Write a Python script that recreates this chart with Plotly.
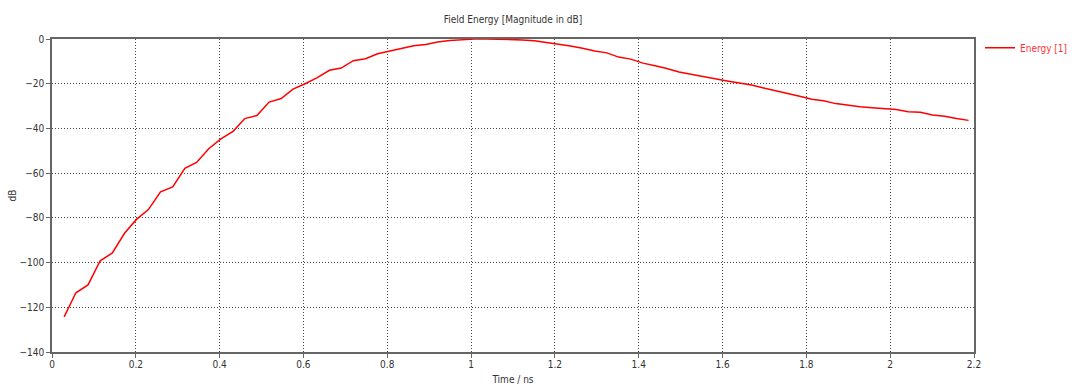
import plotly.graph_objects as go

time_ns = [0.029, 0.057, 0.086, 0.115, 0.144, 0.173, 0.201, 0.230, 0.259, 0.288,
           0.317, 0.345, 0.374, 0.403, 0.432, 0.460, 0.489, 0.518, 0.547, 0.575,
           0.604, 0.633, 0.662, 0.690, 0.719, 0.748, 0.777, 0.805, 0.834, 0.863,
           0.892, 0.920, 0.949, 0.978, 1.007, 1.036, 1.064, 1.093, 1.122, 1.151,
           1.180, 1.208, 1.237, 1.266, 1.295, 1.324, 1.352, 1.381, 1.410, 1.439,
           1.467, 1.496, 1.525, 1.554, 1.582, 1.611, 1.640, 1.669, 1.698, 1.726,
           1.755, 1.784, 1.813, 1.841, 1.870, 1.899, 1.928, 1.957, 1.986, 2.014,
           2.043, 2.072, 2.101, 2.130, 2.158, 2.187]

energy_db = [-124.3, -113.5, -110.0, -99.2, -95.7, -86.9, -80.8, -76.3, -68.4, -66.2,
             -57.9, -55.2, -49.1, -44.7, -41.3, -35.6, -34.2, -28.2, -26.6, -22.4,
             -20.0, -17.3, -14.0, -13.0, -9.7, -8.8, -6.6, -5.4, -4.3, -3.0,
             -2.5, -1.3, -0.7, -0.3, -0.05, 0.0, -0.1, -0.2, -0.4, -0.8,
             -1.5, -2.2, -3.1, -4.1, -5.4, -6.2, -8.1, -9.0, -10.8, -12.0,
             -13.2, -14.8, -15.7, -16.9, -17.8, -18.8, -19.6, -20.6, -21.9, -23.2,
             -24.4, -25.6, -26.9, -27.6, -28.9, -29.7, -30.3, -30.7, -31.0, -31.5,
             -32.5, -32.8, -34.0, -34.6, -35.6, -36.4]

x_ticks = [0, 0.2, 0.4, 0.6, 0.8, 1, 1.2, 1.4, 1.6, 1.8, 2, 2.2]
x_tick_labels = ["0", "0.2", "0.4", "0.6", "0.8", "1", "1.2", "1.4", "1.6", "1.8", "2", "2.2"]
y_ticks = [0, -20, -40, -60, -80, -100, -120, -140]

FONT = "DejaVu Sans Condensed, DejaVu Sans, sans-serif"

fig = go.Figure()
fig.add_trace(go.Scatter(
    x=time_ns, y=energy_db, mode="lines", name="Energy [1]",
    line=dict(color="#ff0000", width=1.5),
))

axis_common = dict(
    showline=True, linecolor="#666666", linewidth=1.5, mirror=True,
    showgrid=True, gridcolor="#444444", gridwidth=1, griddash="1px,2px",
    zeroline=False, ticks="outside", ticklen=4, tickcolor="#666666",
    tickfont=dict(family=FONT, size=10, color="#333333"),
    automargin=False,
)

fig.update_layout(
    width=1080, height=391,
    margin=dict(l=52, r=106, t=39, b=39, autoexpand=False),
    paper_bgcolor="white", plot_bgcolor="white",
    title=dict(text="Field Energy [Magnitude in dB]", x=0.475, xanchor="center",
               y=0.95, yanchor="middle",
               font=dict(family=FONT, size=10, color="#333333")),
    xaxis=dict(range=[0, 2.2], tickvals=x_ticks, ticktext=x_tick_labels,
               ticklabelstandoff=-2,
               title=dict(text="Time / ns", standoff=7,
                          font=dict(family=FONT, size=10, color="#333333")),
               **axis_common),
    yaxis=dict(range=[-140, 0], tickvals=y_ticks,
               title=dict(text="dB", standoff=1,
                          font=dict(family=FONT, size=10, color="#333333")),
               **axis_common),
    showlegend=True,
    legend=dict(x=1.0065, y=1.018, xanchor="left", yanchor="top",
                font=dict(family=FONT, size=10, color="#ff3333"),
                bgcolor="rgba(0,0,0,0)", itemwidth=30),
)

fig.write_html(
    "out.html",
    config={"displayModeBar": False},
    post_script="document.body.style.margin='0';document.body.style.overflow='hidden';",
)
